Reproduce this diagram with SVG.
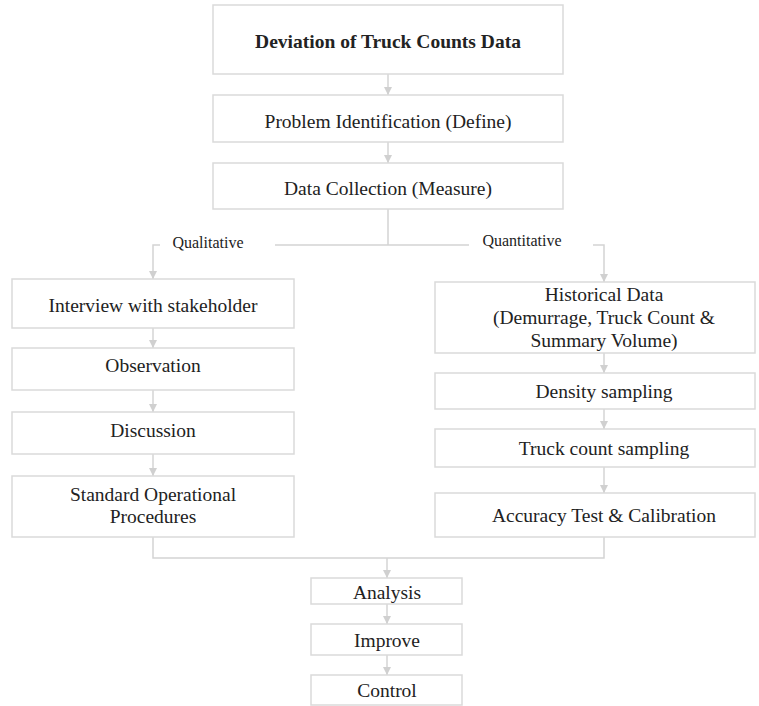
<svg xmlns="http://www.w3.org/2000/svg" width="759" height="706" viewBox="0 0 759 706">
<defs>
<marker id="ah" viewBox="0 0 10 10" refX="10" refY="5" markerWidth="8" markerHeight="8" markerUnits="userSpaceOnUse" orient="auto">
<path d="M0,0 L10,5 L0,10 z" fill="#d0d0d0"/>
</marker>
<style>
.box{fill:#fff;stroke:#dadada;stroke-width:1.5}
.t{font-family:"Liberation Serif","Times New Roman",serif;font-size:19.5px;fill:#222;text-anchor:middle}
.b{font-weight:bold}
.s{font-size:16px}
.c{fill:none;stroke:#d4d4d4;stroke-width:1.5}
</style>
</defs>
<rect width="759" height="706" fill="#fff"/>
<g id="connectors">
<path class="c" d="M388,74 V95" marker-end="url(#ah)"/>
<path class="c" d="M388,142 V163" marker-end="url(#ah)"/>
<path class="c" d="M388,209 V245 M275,245 H469"/>
<path class="c" d="M160,245 H153 V279" marker-end="url(#ah)"/>
<path class="c" d="M593,245 H604 V282" marker-end="url(#ah)"/>
<path class="c" d="M153,328 V348" marker-end="url(#ah)"/>
<path class="c" d="M153,390 V412" marker-end="url(#ah)"/>
<path class="c" d="M153,454 V476" marker-end="url(#ah)"/>
<path class="c" d="M604,353 V373" marker-end="url(#ah)"/>
<path class="c" d="M604,409 V429" marker-end="url(#ah)"/>
<path class="c" d="M604,467 V493" marker-end="url(#ah)"/>
<path class="c" d="M153,537 V558 H604 V537"/>
<path class="c" d="M387,558 V578" marker-end="url(#ah)"/>
<path class="c" d="M387,604 V624" marker-end="url(#ah)"/>
<path class="c" d="M387,655 V675" marker-end="url(#ah)"/>
<text class="t s" x="208" y="248">Qualitative</text>
<text class="t s" x="522" y="246">Quantitative</text>
</g>
<g id="n-title"><rect class="box" x="213" y="5" width="350" height="69"/><text class="t b" x="388" y="48">Deviation of Truck Counts Data</text></g>
<g id="n-define"><rect class="box" x="213" y="95" width="350" height="47"/><text class="t" x="388" y="128">Problem Identification (Define)</text></g>
<g id="n-measure"><rect class="box" x="213" y="163" width="350" height="46"/><text class="t" x="388" y="195">Data Collection (Measure)</text></g>
<g id="n-interview"><rect class="box" x="12" y="279" width="282" height="49"/><text class="t" x="153" y="312">Interview with stakeholder</text></g>
<g id="n-observation"><rect class="box" x="12" y="348" width="282" height="42"/><text class="t" x="153" y="372">Observation</text></g>
<g id="n-discussion"><rect class="box" x="12" y="412" width="282" height="42"/><text class="t" x="153" y="437">Discussion</text></g>
<g id="n-sop"><rect class="box" x="12" y="476" width="282" height="61"/><text class="t" x="153" y="501">Standard Operational</text><text class="t" x="153" y="523">Procedures</text></g>
<g id="n-historical"><rect class="box" x="435" y="282" width="320" height="71"/><text class="t" x="604" y="301">Historical Data</text><text class="t" x="604" y="324">(Demurrage, Truck Count &amp;</text><text class="t" x="604" y="347">Summary Volume)</text></g>
<g id="n-density"><rect class="box" x="435" y="373" width="320" height="36"/><text class="t" x="604" y="398">Density sampling</text></g>
<g id="n-truck"><rect class="box" x="435" y="429" width="320" height="38"/><text class="t" x="604" y="455">Truck count sampling</text></g>
<g id="n-accuracy"><rect class="box" x="435" y="493" width="320" height="44"/><text class="t" x="604" y="522">Accuracy Test &amp; Calibration</text></g>
<g id="n-analysis"><rect class="box" x="311" y="578" width="151" height="26"/><text class="t" x="387" y="599">Analysis</text></g>
<g id="n-improve"><rect class="box" x="311" y="624" width="151" height="31"/><text class="t" x="387" y="647">Improve</text></g>
<g id="n-control"><rect class="box" x="311" y="675" width="151" height="30"/><text class="t" x="387" y="697">Control</text></g>
</svg>
